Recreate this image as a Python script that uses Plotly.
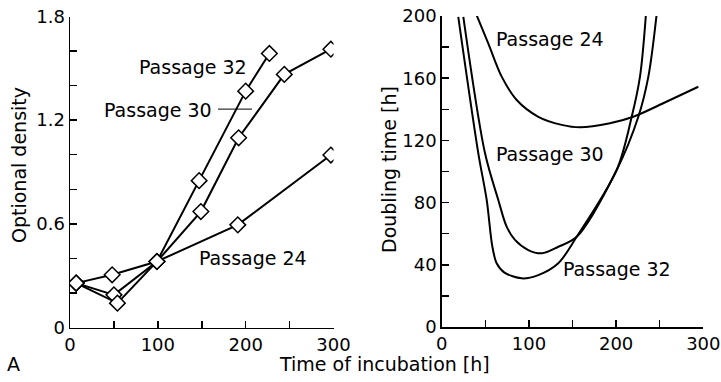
import plotly.graph_objects as go

# ---- Left panel: optical density vs time ----
t24 = [7, 48, 99, 191, 297]
od24 = [0.257, 0.305, 0.382, 0.594, 0.998]
t30 = [7, 50, 99, 149, 192, 244, 297]
od30 = [0.257, 0.189, 0.382, 0.671, 1.098, 1.465, 1.611]
t32 = [7, 54, 99, 147, 200, 227]
od32 = [0.257, 0.141, 0.382, 0.850, 1.368, 1.586]

# ---- Right panel: doubling time curves ----
d24_t = [40, 53.4, 68.8, 86, 110.8, 137.6, 158.6, 193, 219.7, 254, 294.3]
d24_v = [200.6, 182.4, 161, 146, 135.2, 130, 128.4, 131, 135.2, 143.9, 154.5]
d30_t = [24.8, 49.7, 64.9, 74.5, 84, 99.3, 114.7, 133.7, 154.8, 200.7, 225.5, 237, 246.6]
d30_v = [199.5, 111.7, 81.7, 64.5, 56, 49.5, 47.4, 51.6, 58, 101, 135.2, 161, 201.7]
d32_t = [19, 42, 51.6, 58, 63, 72, 91.7, 110.8, 133.7, 154.8, 200.7, 217.9, 227.4, 234.3]
d32_v = [199.5, 111.7, 81.7, 52, 41, 35, 31.3, 33.4, 41, 58, 101, 135.2, 161, 201.7]

FONT = "DejaVu Sans"
FS = 19
BLACK = "black"

W, H = 721, 382


def fx(px):
    return px / W


def fy(py):
    return (H - py) / H


fig = go.Figure()

marker = dict(symbol="diamond", size=12, color="white", line=dict(color=BLACK, width=1.5))
for t, od in [(t24, od24), (t30, od30), (t32, od32)]:
    fig.add_trace(go.Scatter(x=t, y=od, mode="lines+markers", xaxis="x", yaxis="y",
                             line=dict(color=BLACK, width=2), marker=marker,
                             showlegend=False, hoverinfo="skip"))

for t, v in [(d24_t, d24_v), (d30_t, d30_v), (d32_t, d32_v)]:
    fig.add_trace(go.Scatter(x=t, y=v, mode="lines", xaxis="x2", yaxis="y2",
                             line=dict(color=BLACK, width=2, shape="spline", smoothing=0.9),
                             showlegend=False, hoverinfo="skip"))

minor_ticks = dict(ticks="inside", ticklen=7, tickwidth=1.5, tickcolor=BLACK)
axis_common = dict(showline=True, linecolor=BLACK, linewidth=1.5, ticks="inside",
                   ticklen=7, tickwidth=1.5, tickcolor=BLACK, showgrid=False, zeroline=False,
                   tickfont=dict(family=FONT, size=18, color=BLACK), mirror=False,
                   automargin=False, ticklabeloverflow="allow")

fig.update_layout(
    width=W, height=H,
    margin=dict(l=0, r=0, t=0, b=0),
    paper_bgcolor="white", plot_bgcolor="white",
    xaxis=dict(domain=[fx(70), fx(333.5)], range=[0, 300], dtick=100, tick0=0,
               minor=dict(dtick=50, **minor_ticks), anchor="y", **axis_common),
    yaxis=dict(domain=[fy(327.5), fy(16.5)], range=[0, 1.8], dtick=0.6, tick0=0,
               minor=dict(dtick=0.2, **minor_ticks), anchor="x", **axis_common),
    xaxis2=dict(domain=[fx(441.7), fx(703.3)], range=[0, 300], dtick=100, tick0=0,
                minor=dict(dtick=50, **minor_ticks), anchor="y2", **axis_common),
    yaxis2=dict(domain=[fy(327), fy(16)], range=[0, 200], dtick=40, tick0=0,
                minor=dict(dtick=20, **minor_ticks), anchor="x2", **axis_common),
)

tf = dict(family=FONT, size=FS, color=BLACK)
c = dict(showarrow=False, font=tf, xanchor="center", yanchor="middle")
ann = [
    dict(text="Passage 32", x=140.6, y=1.507, xref="x", yref="y", **c),
    dict(text="Passage 30", x=100.2, y=1.259, xref="x", yref="y", **c),
    dict(text="Passage 24", x=208.4, y=0.402, xref="x", yref="y", **c),
    dict(text="Passage 24", x=124.2, y=185, xref="x2", yref="y2", **c),
    dict(text="Passage 30", x=124.2, y=111.3, xref="x2", yref="y2", **c),
    dict(text="Passage 32", x=200.7, y=37.1, xref="x2", yref="y2", **c),
    dict(text="Optional density", x=fx(19), y=fy(165), xref="paper", yref="paper",
         textangle=-90, **c),
    dict(text="Doubling time [h]", x=fx(389), y=fy(170), xref="paper", yref="paper",
         textangle=-90, **c),
    dict(text="Time of incubation [h]", x=fx(384), y=fy(364), xref="paper", yref="paper", **c),
    dict(text="A", x=fx(13), y=fy(364), xref="paper", yref="paper", **c),
]
fig.update_layout(annotations=ann)

# leader line for "Passage 30"
fig.add_shape(type="line", xref="x", yref="y", x0=168.5, x1=207.2, y0=1.264, y1=1.264,
              line=dict(color=BLACK, width=1))

fig.write_html("out.html",
               config={"displayModeBar": False, "staticPlot": True},
               post_script="document.body.style.margin='0';document.body.style.overflow='hidden';")
